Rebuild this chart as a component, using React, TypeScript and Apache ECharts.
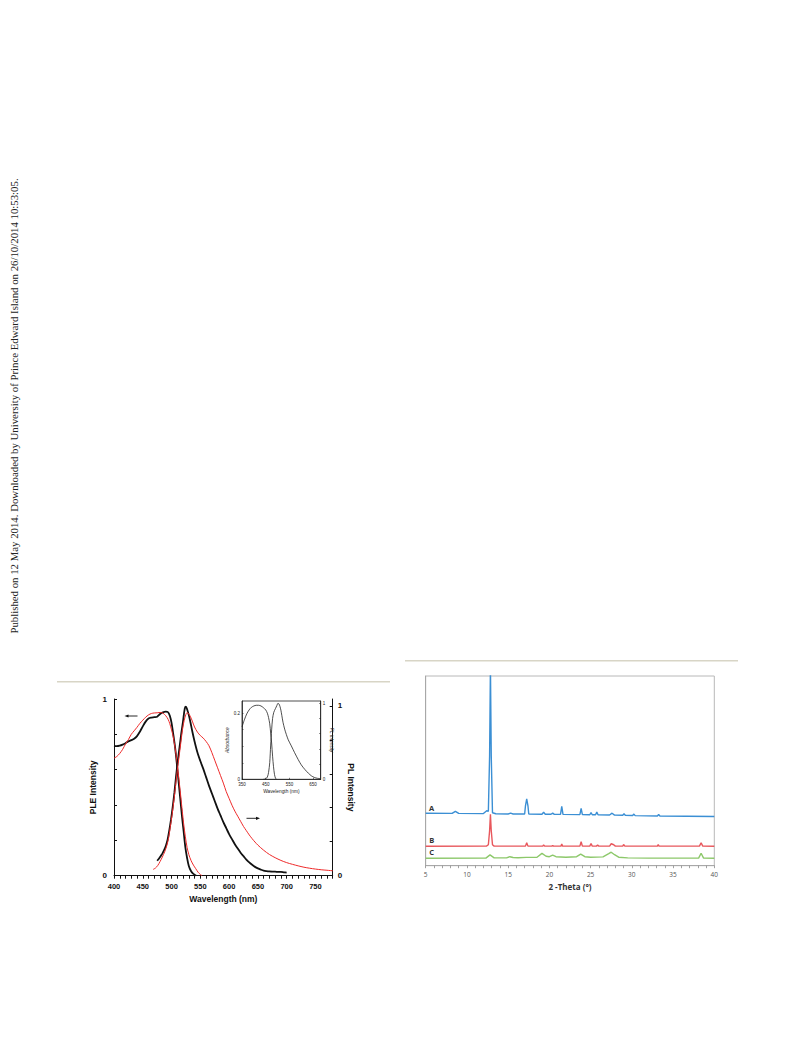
import React, { useEffect, useRef } from "react";
import * as echarts from "echarts";

// ---------- Left figure: PLE / PL spectra ----------
const pleBlack: number[][] = [
  [400, 0.735], [405, 0.733], [410, 0.736], [415, 0.742], [420, 0.75], [425, 0.76], [430, 0.767],
  [435, 0.775], [440, 0.79], [445, 0.815], [450, 0.845], [455, 0.872], [460, 0.89], [465, 0.895],
  [470, 0.897], [475, 0.9], [480, 0.915], [485, 0.925], [490, 0.929], [494, 0.925], [497, 0.905],
  [500, 0.865], [503, 0.8], [506, 0.73], [509, 0.64], [512, 0.54], [515, 0.44], [518, 0.34],
  [521, 0.25], [524, 0.16], [527, 0.1], [530, 0.055], [534, 0.025], [538, 0.01], [543, 0],
];
const pleRed: number[][] = [
  [400, 0.665], [405, 0.675], [410, 0.692], [415, 0.715], [420, 0.745], [425, 0.77], [430, 0.8],
  [435, 0.82], [440, 0.84], [445, 0.862], [450, 0.88], [455, 0.897], [460, 0.91], [465, 0.918],
  [470, 0.921], [475, 0.922], [480, 0.924], [485, 0.92], [490, 0.905], [494, 0.885], [497, 0.86],
  [500, 0.825], [503, 0.785], [506, 0.725], [509, 0.655], [512, 0.57], [515, 0.48], [518, 0.385],
  [521, 0.295], [524, 0.22], [527, 0.16], [530, 0.12], [534, 0.085], [538, 0.06], [542, 0.04],
  [546, 0.02], [550, 0.007], [553, 0],
];
const plBlack: number[][] = [
  [475, 0.088], [478, 0.1], [481, 0.115], [484, 0.13], [487, 0.15], [490, 0.175], [493, 0.21],
  [496, 0.265], [499, 0.33], [502, 0.405], [505, 0.49], [508, 0.59], [511, 0.68], [514, 0.76],
  [517, 0.84], [520, 0.91], [523, 0.985], [525, 0.995], [527, 0.98], [530, 0.945], [533, 0.9],
  [536, 0.85], [540, 0.79], [545, 0.725], [550, 0.675], [555, 0.63], [560, 0.58], [565, 0.53],
  [570, 0.485], [575, 0.44], [580, 0.395], [585, 0.355], [590, 0.315], [595, 0.28], [600, 0.245],
  [605, 0.215], [610, 0.185], [615, 0.16], [620, 0.135], [625, 0.115], [630, 0.095], [635, 0.078],
  [640, 0.064], [645, 0.052], [650, 0.043], [655, 0.036], [660, 0.03], [665, 0.027], [670, 0.025],
  [675, 0.024], [680, 0.024], [685, 0.022], [690, 0.022], [695, 0.02], [700, 0.018],
];
const plRed: number[][] = [
  [468, 0.037], [472, 0.045], [476, 0.06], [480, 0.083], [484, 0.11], [488, 0.14], [492, 0.18],
  [495, 0.225], [498, 0.29], [501, 0.36], [504, 0.44], [507, 0.53], [510, 0.62], [513, 0.7],
  [516, 0.78], [519, 0.86], [522, 0.915], [525, 0.95], [527, 0.96], [530, 0.952], [533, 0.935],
  [536, 0.91], [540, 0.875], [545, 0.845], [550, 0.825], [555, 0.81], [560, 0.79], [565, 0.765],
  [570, 0.725], [575, 0.68], [580, 0.635], [585, 0.59], [590, 0.545], [595, 0.495], [600, 0.455],
  [605, 0.415], [610, 0.38], [615, 0.35], [620, 0.32], [625, 0.29], [630, 0.265], [635, 0.24],
  [640, 0.218], [645, 0.198], [650, 0.18], [660, 0.15], [670, 0.125], [680, 0.106], [690, 0.09],
  [700, 0.077], [710, 0.067], [720, 0.058], [730, 0.05], [740, 0.044], [750, 0.039], [760, 0.035],
  [770, 0.032], [780, 0.029],
];
const insetAbs: number[][] = [
  [350, 0.159], [360, 0.18], [370, 0.198], [380, 0.21], [390, 0.218], [400, 0.222], [410, 0.224],
  [420, 0.224], [430, 0.222], [440, 0.217], [450, 0.21], [457, 0.2], [462, 0.187], [467, 0.168],
  [471, 0.14], [475, 0.11], [479, 0.07], [483, 0.038], [487, 0.015], [491, 0.004], [495, 0],
];
const insetPL: number[][] = [
  [440, 0], [450, 0.005], [457, 0.03], [462, 0.09], [467, 0.22], [471, 0.45], [475, 0.65],
  [479, 0.8], [484, 0.88], [491, 0.93], [497, 0.97], [502, 1.0], [506, 0.99], [510, 0.96],
  [514, 0.91], [518, 0.84], [523, 0.75], [530, 0.66], [537, 0.59], [545, 0.52], [558, 0.44],
  [572, 0.35], [587, 0.26], [600, 0.19], [615, 0.13], [630, 0.08], [643, 0.045], [655, 0.025],
  [668, 0.013], [680, 0.01],
];
const mainXLabels = [400, 450, 500, 550, 600, 650, 700, 750];
const mainXTicks = [
  400, 410, 420, 430, 440, 450, 460, 470, 480, 490, 500, 510, 520, 530, 540, 550, 560, 570, 580,
  590, 600, 610, 620, 630, 640, 650, 660, 670, 680, 690, 700, 710, 720, 730, 740, 750, 760, 770, 780,
];
const mainYLabels = [0, 1];
const mainYTicks = [0, 0.2, 0.4, 0.6, 0.8, 1];
const insetXLabels = [350, 450, 550, 650];
const insetAbsLabels = [0, 0.2];
const insetAbsTicks = [0, 0.05, 0.1, 0.15, 0.2];
const insetPLLabels = [0, 1];
const insetPLTicks = [0, 0.2, 0.4, 0.6, 0.8, 1];

// ---------- Right figure: XRD patterns (offset traces) ----------
const xrdA: number[][] = [
  [5, 52.5], [8.2, 52.4], [8.6, 54.5], [9.0, 52.4], [12.0, 52.2], [12.4, 55], [12.6, 54.5],
  [12.75, 110], [12.85, 200], [12.95, 110], [13.1, 53], [13.5, 52], [15.0, 51.8], [15.3, 52.6],
  [15.6, 51.8], [17.0, 51.8], [17.1, 60], [17.25, 67], [17.4, 60], [17.5, 51.8], [19.1, 51.5],
  [19.3, 53.5], [19.5, 51.5], [20.2, 51.5], [20.4, 52.6], [20.6, 51.4], [21.35, 51.4], [21.5, 59.5],
  [21.65, 51.4], [23.7, 51.2], [23.85, 57.5], [24.0, 51.2], [24.9, 51], [25.05, 53.2], [25.2, 51],
  [25.6, 51], [25.75, 53.7], [25.9, 51], [27.3, 50.8], [27.6, 52.6], [27.9, 50.7], [28.9, 50.5],
  [29.05, 52], [29.2, 50.5], [30.1, 50.3], [30.25, 51.7], [30.4, 50.2], [33.1, 49.8], [33.25, 51.3],
  [33.4, 49.8], [40, 49.3],
];
const xrdB: number[][] = [
  [5, 19.5], [12.4, 19.8], [12.6, 21], [12.75, 35], [12.85, 51.5], [12.95, 35], [13.1, 21],
  [13.3, 19.6], [17.1, 19.6], [17.25, 23], [17.4, 19.6], [19.2, 19.6], [19.3, 20.8], [19.45, 19.6],
  [20.3, 19.6], [20.4, 20.3], [20.5, 19.6], [21.4, 19.6], [21.5, 21.6], [21.6, 19.6], [23.7, 19.6],
  [23.85, 24], [24.0, 19.6], [24.9, 19.6], [25.05, 22.3], [25.2, 19.6], [25.7, 19.6], [25.85, 20.6],
  [26.0, 19.6], [27.3, 19.6], [27.5, 22], [27.8, 21], [28.0, 19.6], [28.9, 19.6], [29.0, 21.2],
  [29.15, 19.6], [33.1, 19.6], [33.2, 21.2], [33.3, 19.6], [38.2, 19.6], [38.4, 23], [38.6, 19.6],
  [40, 19.5],
];
const xrdC: number[][] = [
  [5, 7.5], [12.3, 7.6], [12.8, 10.8], [13.3, 7.8], [14.8, 7.8], [15.2, 9], [15.6, 8.2], [16.2, 8],
  [17.2, 8.3], [18.5, 8.5], [19.1, 12.3], [19.6, 9.5], [20.0, 9], [20.4, 10.5], [20.8, 9], [22, 8.5],
  [23.3, 9], [23.8, 11.5], [24.3, 9], [25, 8.5], [26.5, 8.8], [27.2, 12], [27.5, 13.5], [27.9, 11],
  [28.4, 8.5], [29.5, 7.8], [32, 7.6], [38.1, 7.6], [38.4, 12.5], [38.7, 7.6], [40, 7.5],
];
const xrdXLabels = [5, 10, 15, 20, 25, 30, 35, 40];
const xrdXTicks = [
  5, 6, 7, 8, 9, 10, 11, 12, 13, 14, 15, 16, 17, 18, 19, 20, 21, 22, 23, 24, 25, 26, 27, 28, 29, 30,
  31, 32, 33, 34, 35, 36, 37, 38, 39, 40,
];
const traceLabels = ["A", "B", "C"];
const traceLabelY = [807.7, 840, 851.7];

const headerText =
  "Published on 12 May 2014. Downloaded by University of Prince Edward Island on 26/10/2014 10:53:05.";

const ARIAL = '"Liberation Sans", Arial, sans-serif';
const XRDFONT = '"Open Sans", "Liberation Sans", sans-serif';

export default function App() {
  const ref = useRef<HTMLDivElement>(null);
  useEffect(() => {
    if (!ref.current) return;
    const chart = echarts.init(ref.current, null, { renderer: "svg" });
    const blackAxis = { lineStyle: { color: "#111", width: 1 } };
    const option: any = {
      animation: false,
      backgroundColor: "#fff",
      grid: [
        { left: 114, top: 699, width: 218.7, height: 176.7 },
        { left: 242, top: 701, width: 78.7, height: 78.3, show: true, borderColor: "#222", borderWidth: 0.8 },
        { left: 425.7, top: 676, width: 288.6, height: 189.7, show: true, borderColor: "#b8b8b8", borderWidth: 1 },
      ],
      xAxis: [
        {
          gridIndex: 0, type: "value", min: 400, max: 780, interval: 50,
          axisLine: blackAxis, splitLine: { show: false },
          axisTick: { show: true, customValues: mainXTicks, length: 3, lineStyle: { color: "#111" } },
          axisLabel: { customValues: mainXLabels, margin: 7, fontFamily: ARIAL, fontWeight: "bold", fontSize: 7.5, color: "#111" },
          name: "Wavelength (nm)", nameLocation: "middle", nameGap: 19,
          nameTextStyle: { fontFamily: ARIAL, fontWeight: "bold", fontSize: 8.5, color: "#111" },
        },
        {
          gridIndex: 1, type: "value", min: 350, max: 682, interval: 50,
          axisLine: { lineStyle: { color: "#222", width: 0.8 } }, splitLine: { show: false },
          axisTick: { show: true, inside: true, customValues: insetXLabels, length: 1.5, lineStyle: { color: "#222", width: 0.6 } },
          axisLabel: { customValues: insetXLabels, margin: 2.5, fontFamily: ARIAL, fontSize: 4.5, color: "#222" },
          name: "Wavelength (nm)", nameLocation: "middle", nameGap: 10,
          nameTextStyle: { fontFamily: ARIAL, fontSize: 4.8, color: "#222" },
        },
        {
          gridIndex: 2, type: "value", min: 5, max: 40, interval: 5,
          axisLine: { lineStyle: { color: "#a8a8a8", width: 1 } }, splitLine: { show: false },
          axisTick: { show: true, customValues: xrdXTicks, length: 2.5, lineStyle: { color: "#8a8a8a", width: 0.8 } },
          axisLabel: { customValues: xrdXLabels, margin: 5, fontFamily: XRDFONT, fontSize: 6.5, color: "#555" },
          name: "2 -Theta (°)", nameLocation: "middle", nameGap: 17,
          nameTextStyle: { fontFamily: XRDFONT, fontWeight: "bold", fontSize: 8, color: "#333" },
        },
      ],
      yAxis: [
        {
          gridIndex: 0, type: "value", min: 0, max: 1, interval: 0.2,
          axisLine: { show: true, ...blackAxis }, splitLine: { show: false },
          axisTick: { show: true, inside: true, customValues: mainYTicks, length: 3, lineStyle: { color: "#111" } },
          axisLabel: { customValues: mainYLabels, margin: 7, fontFamily: ARIAL, fontWeight: "bold", fontSize: 8, color: "#111" },
          name: "PLE Intensity", nameLocation: "middle", nameGap: 17,
          nameTextStyle: { fontFamily: ARIAL, fontWeight: "bold", fontSize: 8.5, color: "#111" },
        },
        {
          gridIndex: 0, type: "value", position: "right", min: 0, max: 1.04, interval: 0.2,
          axisLine: { show: true, ...blackAxis }, splitLine: { show: false },
          axisTick: { show: true, inside: true, customValues: mainYTicks, length: 3, lineStyle: { color: "#111" } },
          axisLabel: { customValues: mainYLabels, margin: 5, fontFamily: ARIAL, fontWeight: "bold", fontSize: 8, color: "#111" },
          name: "PL Intensity", nameLocation: "middle", nameGap: 14, nameRotate: -90,
          nameTextStyle: { fontFamily: ARIAL, fontWeight: "bold", fontSize: 8.5, color: "#111" },
        },
        {
          gridIndex: 1, type: "value", min: 0, max: 0.237, interval: 0.05,
          axisLine: { show: true, lineStyle: { color: "#222", width: 0.8 } }, splitLine: { show: false },
          axisTick: { show: true, inside: true, customValues: insetAbsTicks, length: 1.5, lineStyle: { color: "#222", width: 0.6 } },
          axisLabel: { customValues: insetAbsLabels, margin: 2, fontFamily: ARIAL, fontSize: 4.5, color: "#222" },
          name: "Absorbance", nameLocation: "middle", nameGap: 9,
          nameTextStyle: { fontFamily: ARIAL, fontSize: 4.8, fontStyle: "italic", color: "#222" },
        },
        {
          gridIndex: 1, type: "value", position: "right", min: 0, max: 1.03, interval: 0.2,
          axisLine: { show: true, lineStyle: { color: "#222", width: 0.8 } }, splitLine: { show: false },
          axisTick: { show: true, inside: true, customValues: insetPLTicks, length: 1.5, lineStyle: { color: "#222", width: 0.6 } },
          axisLabel: { customValues: insetPLLabels, margin: 2, fontFamily: ARIAL, fontSize: 4.5, color: "#222" },
          name: "PL intensity", nameLocation: "middle", nameGap: 4, nameRotate: -90,
          nameTextStyle: { fontFamily: ARIAL, fontSize: 4.8, fontStyle: "italic", color: "#222" },
        },
        {
          gridIndex: 2, type: "value", min: 0, max: 190,
          axisLine: { show: true, lineStyle: { color: "#a8a8a8", width: 1 } }, splitLine: { show: false },
          axisTick: { show: false }, axisLabel: { show: false },
        },
      ],
      series: [
        { type: "line", xAxisIndex: 0, yAxisIndex: 0, data: pleBlack, smooth: 0.3, showSymbol: false, lineStyle: { color: "#111", width: 1.8 } },
        { type: "line", xAxisIndex: 0, yAxisIndex: 0, data: pleRed, smooth: 0.3, showSymbol: false, lineStyle: { color: "#ee2a2a", width: 1 } },
        { type: "line", xAxisIndex: 0, yAxisIndex: 1, data: plBlack, smooth: 0.3, showSymbol: false, lineStyle: { color: "#111", width: 1.8 } },
        { type: "line", xAxisIndex: 0, yAxisIndex: 1, data: plRed, smooth: 0.3, showSymbol: false, lineStyle: { color: "#ee2a2a", width: 1 } },
        { type: "line", xAxisIndex: 1, yAxisIndex: 2, data: insetAbs, smooth: 0.3, showSymbol: false, lineStyle: { color: "#222", width: 0.8 } },
        { type: "line", xAxisIndex: 1, yAxisIndex: 3, data: insetPL, smooth: 0.3, showSymbol: false, lineStyle: { color: "#222", width: 0.8 } },
        { type: "line", xAxisIndex: 2, yAxisIndex: 4, data: xrdA, showSymbol: false, clip: true, lineStyle: { color: "#3b8fd4", width: 1.4 } },
        { type: "line", xAxisIndex: 2, yAxisIndex: 4, data: xrdB, showSymbol: false, clip: true, lineStyle: { color: "#e8575c", width: 1.4 } },
        { type: "line", xAxisIndex: 2, yAxisIndex: 4, data: xrdC, showSymbol: false, clip: true, lineStyle: { color: "#8cc86a", width: 1.4 } },
      ],
      graphic: [
        {
          type: "text", x: 14, y: 406, rotation: Math.PI / 2,
          style: { text: headerText, font: '10.8px "Liberation Serif", "Times New Roman", serif', fill: "#222", align: "center", verticalAlign: "middle" },
        },
        { type: "line", shape: { x1: 57, y1: 681.7, x2: 390, y2: 681.7 }, style: { stroke: "#d8d5c6", lineWidth: 1.5 } },
        { type: "line", shape: { x1: 405, y1: 660.7, x2: 738, y2: 660.7 }, style: { stroke: "#d8d5c6", lineWidth: 1.5 } },
        { type: "line", shape: { x1: 137.5, y1: 716, x2: 127, y2: 716 }, style: { stroke: "#111", lineWidth: 0.9 } },
        { type: "polygon", shape: { points: [[124.5, 716], [128.5, 714.4], [128.5, 717.6]] }, style: { fill: "#111" } },
        { type: "line", shape: { x1: 246.5, y1: 818.3, x2: 257, y2: 818.3 }, style: { stroke: "#111", lineWidth: 0.9 } },
        { type: "polygon", shape: { points: [[260, 818.3], [256, 816.7], [256, 819.9]] }, style: { fill: "#111" } },
        ...traceLabels.map((t, i) => ({
          type: "text", x: 431.7, y: traceLabelY[i],
          style: { text: t, font: `bold 7.5px ${XRDFONT}`, fill: "#333", align: "center", verticalAlign: "middle" },
        })),
      ],
    };
    chart.setOption(option);
    return () => chart.dispose();
  }, []);
  return (
    <div
      ref={ref}
      style={{ position: "absolute", left: 0, top: 0, width: 793, height: 1039 }}
    />
  );
}
